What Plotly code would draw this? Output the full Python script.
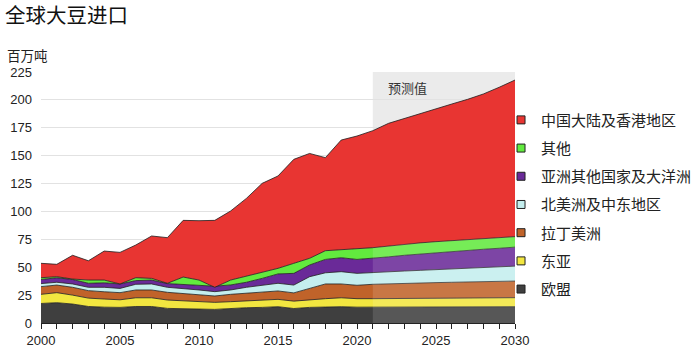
import plotly.graph_objects as go
import numpy as np

years = list(range(2000, 2031))
forecast_start = 2021

eu =        [17.5, 18.2, 17.0, 14.8, 14.2, 14.0, 14.8, 14.8, 13.1, 13.1, 12.5, 12.2, 13.1, 13.7, 14.0, 14.6,
             13.0, 14.0, 14.3, 14.6, 14.2, 14.2, 14.3, 14.4, 14.4, 14.5, 14.5, 14.5, 14.6, 14.6, 14.6]
east_asia = [8.2, 9.0, 8.0, 7.5, 7.3, 6.8, 7.8, 7.8, 7.5, 6.9, 6.6, 6.3, 6.0, 6.3, 6.6, 6.6,
             6.6, 7.0, 7.5, 8.0, 7.6, 7.6, 7.6, 7.5, 7.6, 7.6, 7.7, 7.8, 7.8, 8.0, 8.1]
latam =     [6.9, 6.8, 7.0, 6.7, 6.5, 6.4, 7.0, 7.0, 6.9, 6.6, 6.0, 5.7, 6.6, 6.6, 6.9, 7.5,
             7.4, 10.0, 13.2, 12.4, 12.0, 12.9, 13.3, 13.7, 13.9, 14.1, 14.3, 14.5, 14.7, 14.7, 14.9]
na_me =     [2.7, 2.5, 3.0, 3.0, 4.0, 3.8, 5.1, 5.4, 4.5, 4.5, 4.5, 3.9, 3.9, 5.4, 6.6, 6.9,
             7.0, 10.5, 10.0, 11.0, 10.7, 10.7, 10.8, 11.0, 11.3, 11.7, 12.0, 12.3, 12.7, 13.1, 13.4]
asia_other = [3.7, 4.0, 4.0, 3.6, 4.0, 4.0, 3.3, 3.5, 3.3, 3.6, 3.9, 4.9, 4.5, 4.5, 5.9, 8.4,
              10.5, 10.5, 12.0, 12.5, 12.5, 12.6, 13.3, 14.1, 14.7, 15.2, 15.6, 16.0, 16.3, 16.6, 17.0]
others =    [1.6, 1.0, 0.4, 2.9, 2.5, 0.0, 2.6, 1.5, 0.3, 6.5, 5.0, -1.0, 4.4, 5.6, 5.4, 5.0,
             9.0, 6.0, 7.8, 7.5, 9.6, 9.5, 9.8, 10.1, 9.9, 9.8, 9.7, 9.7, 9.6, 9.6, 9.4]
china =     [12.9, 11.1, 21.3, 17.3, 26.0, 28.3, 29.3, 38.0, 40.9, 50.8, 53.2, 60.0, 61.9, 69.6, 79.8, 82.8,
             93.2, 94.0, 83.4, 98.0, 101.0, 104.9, 109.9, 112.7, 116.2, 119.1, 122.5, 125.7, 129.6, 134.7, 140.4]

series = [
    ("欧盟", eu, "#3f3f3f"),
    ("东亚", east_asia, "#f2e640"),
    ("拉丁美洲", latam, "#c0632a"),
    ("北美洲及中东地区", na_me, "#c4eeee"),
    ("亚洲其他国家及大洋洲", asia_other, "#6a2a98"),
    ("其他", others, "#62ea3e"),
    ("中国大陆及香港地区", china, "#e83532"),
]

FONT = "Liberation Sans, Arial, Noto Sans CJK SC, sans-serif"
CJK = "Noto Sans CJK SC, Liberation Sans, sans-serif"

fig = go.Figure()
for name, vals, col in series:
    fig.add_trace(go.Scatter(
        x=years, y=vals, name=name, stackgroup="one", mode="lines",
        line=dict(color="#1e1e1e", width=0.8), fillcolor=col, showlegend=False,
    ))

# forecast lightening overlay over the lower layers
cum_other = np.sum([s[1] for s in series[:6]], axis=0)
fi = years.index(forecast_start)
fx = years[fi:] + years[fi:][::-1]
fy = list(cum_other[fi:]) + [0] * len(years[fi:])
fig.add_trace(go.Scatter(x=fx, y=fy, fill="toself", mode="none",
                         fillcolor="rgba(255,255,255,0.13)", showlegend=False, hoverinfo="skip"))

# legend entries (top to bottom)
for name, vals, col in reversed(series):
    fig.add_trace(go.Scatter(
        x=[None], y=[None], mode="markers", name=name, legendgroup=name,
        marker=dict(symbol="square", size=8, color=col, line=dict(color="#222", width=1)),
    ))

fig.add_shape(type="rect", xref="x", yref="y", x0=forecast_start, x1=2030, y0=0, y1=225,
              fillcolor="#ebebeb", line=dict(width=0), layer="below")
fig.add_annotation(x=2023.2, y=211, xref="x", yref="y", text="预测值", showarrow=False,
                   font=dict(family=CJK, size=13, color="#333"))
fig.add_annotation(x=-36/474, y=(323-55)/251, xref="paper", yref="paper", text="百万吨",
                   showarrow=False, xanchor="left", yanchor="middle",
                   font=dict(family=CJK, size=13.5, color="#222"))

fig.update_layout(
    width=700, height=348,
    margin=dict(l=41, r=185, t=72, b=25, autoexpand=False),
    paper_bgcolor="white", plot_bgcolor="white",
    title=dict(text="全球大豆进口", x=0.007, xanchor="left", y=0.975, yanchor="top",
               font=dict(family=CJK, size=20.5, color="#111")),
    showlegend=True,
    legend=dict(x=0.9705, xanchor="left", y=0.874, yanchor="top", traceorder="grouped",
                tracegroupgap=5.7, font=dict(family=CJK, size=15, color="#222"),
                bgcolor="rgba(0,0,0,0)", itemclick=False),
)

fig.update_xaxes(range=[2000, 2030], dtick=5, tick0=2000, ticks="outside", ticklen=5,
                 tickcolor="#222", showline=True, linecolor="#222", linewidth=1, showgrid=False,
                 automargin=False,
                 tickfont=dict(family=FONT, size=13, color="#222"),
                 minor=dict(dtick=1, ticks="outside", ticklen=5, tickcolor="#222"))
fig.update_yaxes(range=[0, 225], dtick=25, showgrid=True, gridcolor="#e2e2e2", gridwidth=1,
                 zeroline=False, showline=False, ticks="", ticklabelstandoff=8, automargin=False,
                 tickfont=dict(family=FONT, size=13, color="#222"))

fig.write_html("out.html")
